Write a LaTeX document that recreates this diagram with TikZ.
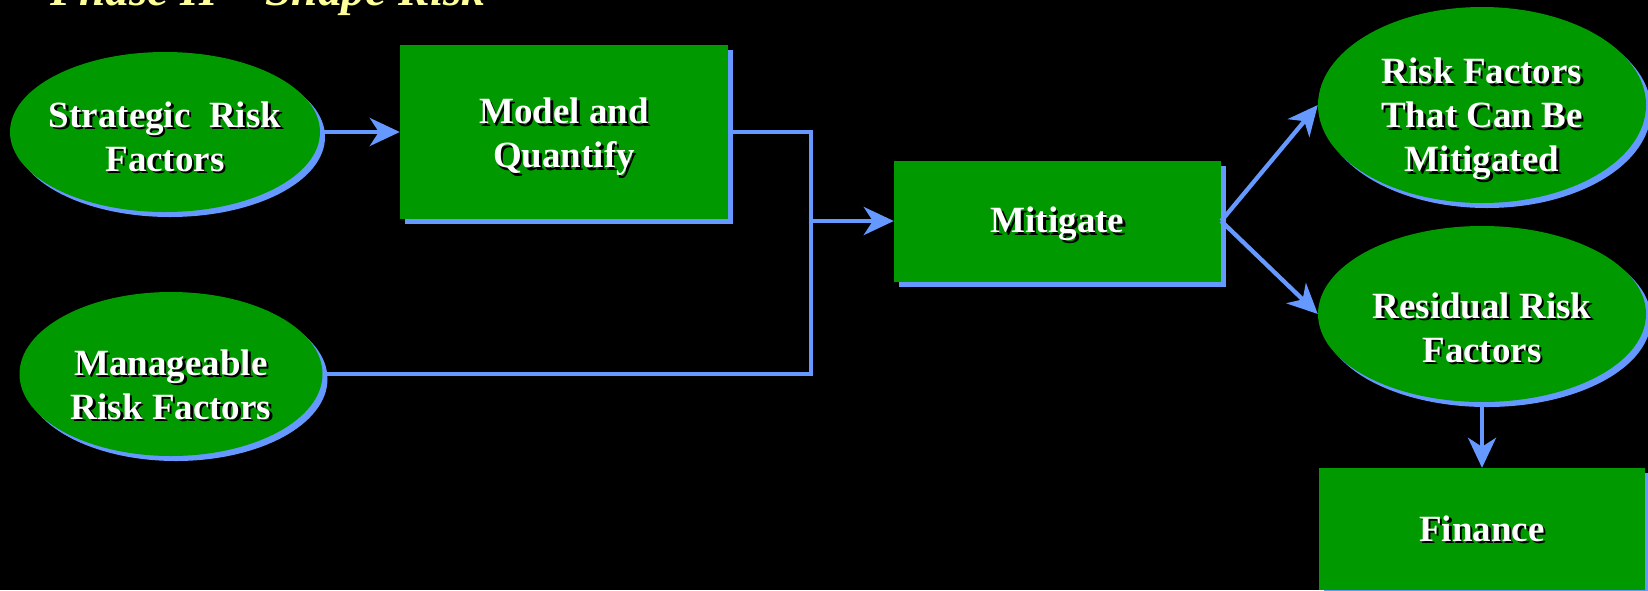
\documentclass[tikz,border=0pt]{standalone}
\usepackage{fontspec}
\setmainfont{Liberation Serif}
\usetikzlibrary{arrows.meta,shapes.geometric,shadows}
\definecolor{boxgreen}{RGB}{0,153,0}
\definecolor{linkblue}{RGB}{102,153,255}
\definecolor{titleyellow}{RGB}{255,255,153}
% white text with a dark drop shadow, one line at a time
\newcommand\shd[1]{\leavevmode\rlap{\kern2.5pt\raisebox{-2.5pt}{\color{black}#1}}#1}

\begin{document}
\begin{tikzpicture}[x=1pt,y=-1pt,
  bluedrop/.style={drop shadow={shadow xshift=5pt,shadow yshift=-5pt,fill=linkblue,opacity=1}},
  oval/.style={ellipse,fill=boxgreen,bluedrop,inner sep=0pt},
  block/.style={rectangle,fill=boxgreen,bluedrop,inner sep=0pt},
  lbl/.style={text=white,font=\bfseries\fontsize{37}{44}\selectfont,align=center,inner sep=0pt},
  link/.style={draw=linkblue,line width=4.3pt},
  arr/.style={link,-{Stealth[length=30pt,width=28pt,inset=9pt]}}]

\useasboundingbox (0,0) rectangle (1648,590);
\fill[black] (0,0) rectangle (1648,590);

% heading, mostly above the top edge
\node[anchor=base west,text=titleyellow,inner sep=0pt,
      font=\bfseries\itshape\fontsize{47.5}{57}\selectfont] (title) at (50,5) {Phase II – Shape Risk};

% shapes
\node[oval,minimum width=310pt,minimum height=160pt,
      label={[lbl,yshift=-6pt]center:{\shd{Strategic\ \ Risk}\\\shd{Factors}}}] (strat) at (165,132) {};
\node[oval,minimum width=303pt,minimum height=164pt,
      label={[lbl,yshift=-12pt]center:{\shd{Manageable}\\\shd{Risk Factors}}}] (manage) at (171,374) {};
\node[block,minimum width=328pt,minimum height=174pt,
      label={[lbl,yshift=-6pt]center:{\shd{Model and}\\\shd{Quantify}}}] (model) at (564,132) {};
\node[block,minimum width=327pt,minimum height=121pt,
      label={[lbl,yshift=-4pt]center:{\shd{Mitigate}}}] (mitig) at (1057.5,221) {};
\node[oval,minimum width=328pt,minimum height=196pt,
      label={[lbl,yshift=-15pt]center:{\shd{Risk Factors}\\\shd{That Can Be}\\\shd{Mitigated}}}] (rfm) at (1482,105) {};
\node[oval,minimum width=328pt,minimum height=176pt,
      label={[lbl,yshift=-15pt]center:{\shd{Residual Risk}\\\shd{Factors}}}] (resid) at (1482,314) {};
\node[block,minimum width=326pt,minimum height=122pt,
      label={[lbl,yshift=-1pt]center:{\shd{Finance}}}] (fin) at (1482,529) {};

% junction of the two inputs
\coordinate (j) at (811,221);
\coordinate (jb) at (811,374);

% connectors
\draw[arr] (strat.east) -- (model.west);
\draw[link] (model.east) -| (jb) -- (manage.east);
\draw[arr] (j) -- (mitig.west);
\draw[arr] (mitig.east) -- (rfm.west);
\draw[arr] (mitig.east) -- (resid.west);
\draw[arr] (resid.south) -- (fin.north);
\end{tikzpicture}
\end{document}
